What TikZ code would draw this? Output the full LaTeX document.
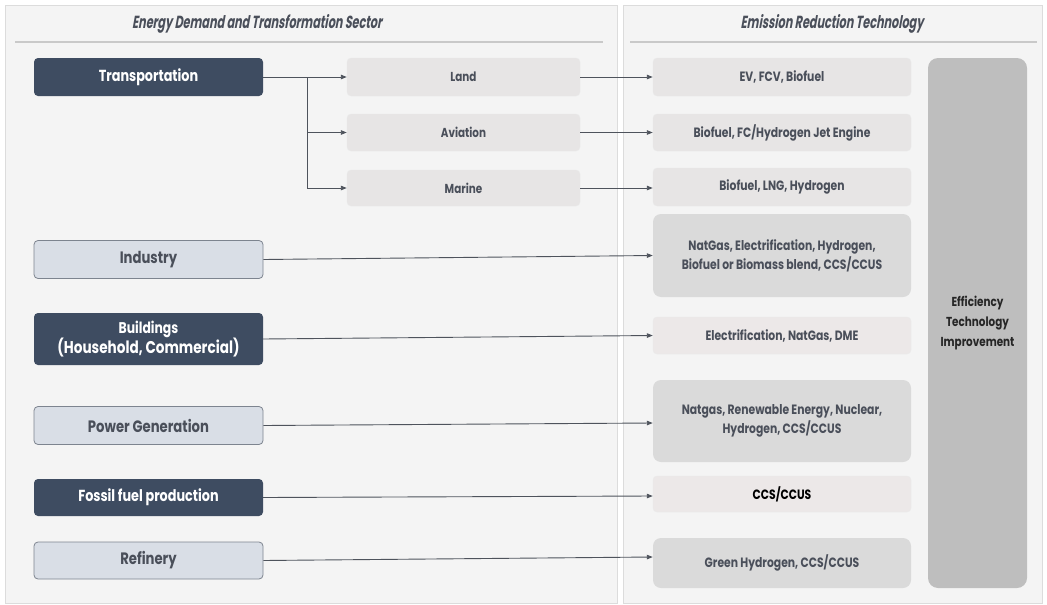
\documentclass[tikz,border=0pt]{standalone}
\usepackage{fontspec}
\setmainfont[FakeStretch=0.8]{Poppins}
\newfontfamily\headfont[FakeStretch=0.64,FakeSlant=0.18]{Poppins}
\usetikzlibrary{arrows.meta}

\definecolor{paper}{HTML}{F4F4F4}
\definecolor{frame}{HTML}{DCDCDC}
\definecolor{navy}{HTML}{3E4C61}
\definecolor{ink}{HTML}{4A4F5A}
\definecolor{paleblue}{HTML}{D9DEE6}
\definecolor{paleedge}{HTML}{7D848F}
\definecolor{lightbox}{HTML}{E7E5E5}
\definecolor{midbox}{HTML}{DADADA}
\definecolor{pinkbox}{HTML}{ECE8E8}
\definecolor{effbox}{HTML}{BEBEBE}
\definecolor{wire}{HTML}{4E535C}
\definecolor{rule}{HTML}{C9C9C9}

\tikzset{
  base/.style={rectangle, rounded corners=4pt, align=center, inner sep=2pt,
    font=\bfseries},
  darkbox/.style={base, fill=navy, text=white, minimum width=229pt,
    font=\bfseries\fontsize{16}{18}\selectfont},
  lightsect/.style={base, fill=paleblue, draw=paleedge, line width=0.8pt, text=ink,
    minimum width=229pt, font=\bfseries\fontsize{16.5}{18}\selectfont},
  subbox/.style={base, fill=lightbox, draw=frame!60, text=ink, minimum width=233pt,
    font=\bfseries\fontsize{13}{15}\selectfont},
  techbox/.style={base, fill=lightbox, draw=frame!60, text=ink, minimum width=258pt,
    font=\bfseries\fontsize{13.5}{16}\selectfont},
  techbig/.style={base, rounded corners=8pt, fill=midbox, text=ink, minimum width=258pt,
    font=\bfseries\fontsize{13.5}{19}\selectfont},
  link/.style={draw=wire, line width=0.9pt, -{Triangle[length=6pt,width=4.5pt]}},
  plain/.style={draw=wire, line width=0.9pt},
  header/.style={font=\headfont\bfseries\fontsize{17.5}{20}\selectfont, text=ink}
}

\begin{document}
\begin{tikzpicture}[x=1pt,y=-1pt]
  % canvas and the two panels
  \fill[white] (0,0) rectangle (1047,605);
  \useasboundingbox (0,0) rectangle (1047,605);
  \draw[frame, fill=paper, line width=0.8pt] (5,5) rectangle (617,603);
  \draw[frame, fill=paper, line width=0.8pt] (623,5) rectangle (1042,603);

  % panel titles
  \node[header] (hleft) at (257,24) {Energy Demand and Transformation Sector};
  \node[header] (hright) at (832,24) {Emission Reduction Technology};
  \draw[rule, line width=1.2pt] (15,42) -- (603,42);
  \draw[rule, line width=1.2pt] (630,42) -- (1037,42);

  % demand sectors
  \node[darkbox, minimum height=38pt] (trans) at (148.5,77) {Transportation};
  \node[lightsect, minimum height=38pt] (ind) at (148.5,259.5) {Industry};
  \node[darkbox, minimum height=52pt, font=\bfseries\fontsize{15.5}{19}\selectfont] (bld) at (148.5,339)
    {Buildings\\{\fontsize{17}{19}\selectfont(Household, Commercial)}};
  \node[lightsect, minimum height=38pt] (pow) at (148.5,425.5) {Power Generation};
  \node[darkbox, minimum height=37pt] (fos) at (148.5,497.5) {Fossil fuel production};
  \node[lightsect, minimum height=37pt] (ref) at (148.5,560.5) {Refinery};

  % transport modes
  \node[subbox, minimum height=38pt] (land) at (463.5,77) {Land};
  \node[subbox, minimum height=37pt] (avi) at (463.5,132.5) {Aviation};
  \node[subbox, minimum height=36pt] (mar) at (463.5,188) {Marine};

  % reduction technologies
  \node[techbox, minimum height=38pt] (ev) at (782,77) {EV, FCV, Biofuel};
  \node[techbox, minimum height=37pt] (jet) at (782,132.5) {Biofuel, FC/Hydrogen Jet Engine};
  \node[techbox, minimum height=38pt] (lng) at (782,187) {Biofuel, LNG, Hydrogen};
  \node[techbig, minimum height=83pt] (indt) at (782,255.5)
    {NatGas, Electrification, Hydrogen,\\Biofuel or Biomass blend, CCS/CCUS};
  \node[techbox, fill=pinkbox, minimum height=37pt] (bldt) at (782,335.5)
    {Electrification, NatGas, DME};
  \node[techbig, minimum height=82pt] (powt) at (782,421)
    {Natgas, Renewable Energy, Nuclear,\\Hydrogen, CCS/CCUS};
  \node[techbox, fill=pinkbox, text=black, minimum height=36pt] (fost) at (782,494) {CCS/CCUS};
  \node[techbig, minimum height=50pt] (reft) at (782,563)
    {\raisebox{-3pt}{Green Hydrogen, CCS/CCUS}};

  \node[base, rounded corners=10pt, fill=effbox, text=black!85, minimum width=99pt,
    minimum height=530pt, font=\bfseries\fontsize{13}{20}\selectfont] (eff) at (977.5,323)
    {Efficiency\\Technology\\Improvement};

  % connectors
  \coordinate (split) at (307,77);
  \draw[plain] (trans.east) -- (split);
  \draw[link] (split) -- (land.west);
  \draw[link] (split) |- (avi.west);
  \draw[link] (split) |- (mar.west);

  \draw[link] (land.east) -- (ev.west);
  \draw[link] (avi.east) -- (jet.west);
  \draw[link] (mar.east) -- ([yshift=-1pt]lng.west);

  \draw[link] (ind.east) -- (indt.west);
  \draw[link] (bld.east) -- (bldt.west);
  \draw[link] (pow.east) -- ([yshift=-2pt]powt.west);
  \draw[link] (fos.east) -- ([yshift=-2pt]fost.west);
  \draw[link] (ref.east) -- ([yshift=6pt]reft.west);
\end{tikzpicture}
\end{document}
